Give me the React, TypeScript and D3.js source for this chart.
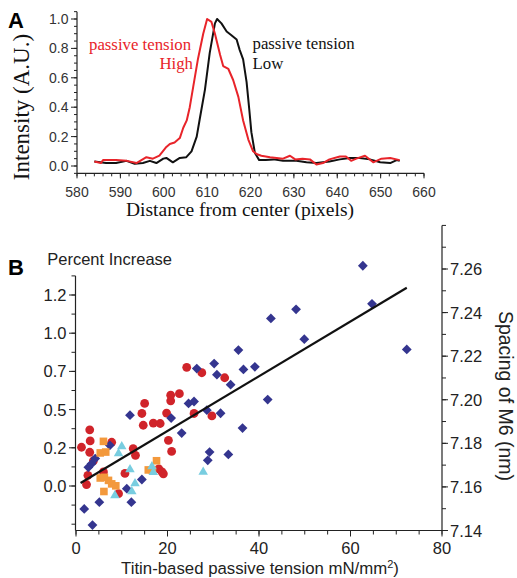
import React from "react";
import * as d3 from "d3";

// ---- Panel A data (intensity profiles) ----
const highX = [584, 585.5, 586, 589, 591.5, 593.7, 596, 597.5, 599, 600.6, 601.4, 602.5, 603.7, 604.5, 605.3, 606, 606.8, 607.9, 609.1, 610, 611, 611.8, 613, 613.7, 614.9, 616, 617.2, 618.3, 619.5, 620.6, 621.5, 622.5, 624.5, 627.5, 629.1, 630.3, 632, 633.7, 635.2, 636.7, 638.2, 640.6, 642, 643.2, 644.4, 646.4, 648.3, 650.2, 652.2, 654.4];
const highY = [0.03, 0.02, 0.04, 0.04, 0.035, 0.02, 0.06, 0.05, 0.07, 0.13, 0.15, 0.16, 0.19, 0.26, 0.31, 0.4, 0.54, 0.73, 0.9, 1.0, 0.98, 0.9, 0.755, 0.68, 0.66, 0.585, 0.47, 0.31, 0.18, 0.1, 0.08, 0.07, 0.06, 0.05, 0.07, 0.045, 0.05, 0.045, 0.01, 0.02, 0.045, 0.065, 0.065, 0.035, 0.05, 0.07, 0.025, 0.05, 0.055, 0.04];
const lowX = [584, 586.7, 589, 591.4, 593.3, 595.2, 596.8, 598.3, 599.9, 600.6, 602.1, 603.7, 605.2, 606.4, 607.6, 608.3, 609.5, 610.6, 611.8, 612.3, 613.3, 614.5, 615.6, 616.8, 617.5, 618.3, 619.1, 619.7, 620.2, 621, 622, 623.5, 625.3, 627.5, 630.6, 632.9, 635.2, 638.2, 640.6, 642.9, 645.2, 647.5, 649.9, 652.2, 653.7, 654.4];
const lowY = [0.03, 0.02, 0.02, 0.035, 0.015, 0.02, 0.035, 0.02, 0.05, 0.055, 0.025, 0.055, 0.06, 0.1, 0.2, 0.32, 0.52, 0.77, 0.97, 1.0, 0.97, 0.915, 0.89, 0.86, 0.79, 0.725, 0.57, 0.39, 0.23, 0.09, 0.04, 0.04, 0.045, 0.035, 0.035, 0.025, 0.02, 0.03, 0.045, 0.055, 0.055, 0.045, 0.025, 0.02, 0.04, 0.035];

const aXTicks = [580, 590, 600, 610, 620, 630, 640, 650, 660];
const aYTicks = [0, 0.2, 0.4, 0.6, 0.8, 1.0];
const aYLabels = ["0.0", "0.2", "0.4", "0.6", "0.8", "1.0"];

// ---- Panel B data (x: titin-based passive tension, y: spacing of M6 nm) ----
const redX = [1.2, 2.3, 2.6, 3.0, 3.1, 3.0, 3.8, 6.0, 7.8, 9.3, 10.7, 12.5, 13.0, 14.4, 14.7, 15.0, 16.9, 18.4, 18.1, 18.8, 19.1, 19.8, 20.2, 20.9, 20.7, 20.7, 22.6, 24.2, 27.5, 32.5, 25.8, 29.7];
const redY = [7.1782, 7.1611, 7.1653, 7.1862, 7.1811, 7.1759, 7.172, 7.1669, 7.1805, 7.1569, 7.1662, 7.1776, 7.1745, 7.1937, 7.1883, 7.1983, 7.1893, 7.1891, 7.1683, 7.1669, 7.166, 7.1939, 7.1814, 7.1763, 7.1995, 7.2021, 7.2028, 7.2149, 7.2124, 7.2101, 7.1937, 7.1926];
const blueX = [1.8, 3.6, 2.7, 3.4, 4.2, 5.1, 7.4, 11.8, 11.1, 12.1, 14.4, 20.8, 23.1, 24.6, 25.8, 28.6, 28.8, 29.2, 31.6, 33.3, 33.8, 36.4, 26.4, 30.2, 30.8, 35.5, 36.6, 39.1, 41.9, 42.6, 48.1, 49.9, 62.7, 64.7, 72.3];
const blueY = [7.1499, 7.1425, 7.169, 7.1706, 7.173, 7.153, 7.1791, 7.1929, 7.1592, 7.153, 7.1634, 7.1916, 7.1847, 7.1983, 7.1992, 7.1952, 7.1722, 7.176, 7.1938, 7.1749, 7.2069, 7.187, 7.2143, 7.2166, 7.2115, 7.2228, 7.2139, 7.2151, 7.2001, 7.2373, 7.2415, 7.2278, 7.2615, 7.244, 7.2231];
const orangeX = [6.0, 5.3, 6.5, 5.3, 6.2, 7.1, 6.1, 7.8, 8.7, 15.8, 16.7, 17.6];
const orangeY = [7.1809, 7.1756, 7.176, 7.1641, 7.1644, 7.163, 7.1579, 7.1614, 7.1605, 7.1678, 7.1676, 7.172];
const cyanX = [10.0, 9.3, 11.8, 8.5, 12.2, 12.9, 16.6, 16.9, 27.8];
const cyanY = [7.1786, 7.1753, 7.168, 7.1561, 7.1579, 7.1616, 7.1694, 7.1667, 7.1668];
const fitX = [1.0, 72.3];
const fitY = [7.1618, 7.2514];

const bXTicks = [0, 20, 40, 60, 80];
const bLeftTicks = [0, 0.25, 0.5, 0.75, 1.0, 1.25];
const bLeftLabels = ["0.0", "0.2", "0.5", "0.7", "1.0", "1.2"];
const bRightTicks = [7.14, 7.16, 7.18, 7.2, 7.22, 7.24, 7.26];

const SERIF = "'Liberation Serif', 'Times New Roman', serif";
const SANS = "'Liberation Sans', Arial, sans-serif";
const AX = "#222";

export default function App() {
  const W = 517;
  const H = 578;

  // Panel A scales
  const xA = d3.scaleLinear().domain([580, 660]).range([77, 424]);
  const yA = d3.scaleLinear().domain([0, 1]).range([166, 19]);
  const lineA = d3.line<[number, number]>().x((d) => xA(d[0])).y((d) => yA(d[1]));
  const highPts: [number, number][] = highX.map((x, i) => [x, highY[i]]);
  const lowPts: [number, number][] = lowX.map((x, i) => [x, lowY[i]]);
  const aBottom = yA(-0.05);
  const aTop = yA(1.05);
  const aXMinor = d3.range(580, 660.01, 2);
  const aYMinor = d3.range(-0.05, 1.051, 0.05);

  // Panel B scales
  const xB = d3.scaleLinear().domain([0, 80]).range([76, 442]);
  const yR = d3.scaleLinear().domain([7.14, 7.26]).range([530.5, 269]);
  const yL = d3.scaleLinear().domain([0, 1.25]).range([486, 295]);
  const bBottom = 530.5;
  const bLeftTop = yL(1.375);
  const bRightTop = yR(7.28);
  const bXMinor = d3.range(0, 80.01, 5);
  const bLeftMinor = d3.range(-0.25, 1.376, 0.125);
  const bRightMinor = d3.range(7.14, 7.2801, 0.01);
  const fitLine = d3.line<number>().x((d) => xB(d)).y((_, i) => yR(fitY[i]));

  const diamond = (x: number, y: number, r: number) =>
    `M${x},${y - r}L${x + r},${y}L${x},${y + r}L${x - r},${y}Z`;
  const tri = (x: number, y: number, s: number) => {
    const h = (s * Math.sqrt(3)) / 2;
    return `M${x},${y - (2 * h) / 3}L${x + s / 2},${y + h / 3}L${x - s / 2},${y + h / 3}Z`;
  };

  return (
    <svg
      width={W}
      height={H}
      viewBox={`0 0 ${W} ${H}`}
      style={{ position: "absolute", left: 0, top: 0, background: "#fff" }}
    >
      <rect x={0} y={0} width={W} height={H} fill="#fff" />

      {/* ---------- Panel A ---------- */}
      <text x={8} y={28} fontFamily={SANS} fontWeight="bold" fontSize={22} fill="#000">A</text>

      {/* axes */}
      <line x1={77} x2={77} y1={aTop} y2={aBottom} stroke={AX} strokeWidth={1.2} />
      <line x1={77} x2={424} y1={aBottom} y2={aBottom} stroke={AX} strokeWidth={1.2} />
      {aYMinor.map((v, i) => (
        <line key={"aym" + i} x1={77} x2={74} y1={yA(v)} y2={yA(v)} stroke={AX} strokeWidth={1} />
      ))}
      {aYTicks.map((v, i) => (
        <g key={"ayt" + i}>
          <line x1={77} x2={71} y1={yA(v)} y2={yA(v)} stroke={AX} strokeWidth={1} />
          <text x={68.5} y={yA(v) + 5} textAnchor="end" fontFamily={SANS} fontSize={14} fill="#333">
            {aYLabels[i]}
          </text>
        </g>
      ))}
      {aXMinor.map((v, i) => (
        <line key={"axm" + i} x1={xA(v)} x2={xA(v)} y1={aBottom} y2={aBottom + 3} stroke={AX} strokeWidth={1} />
      ))}
      {aXTicks.map((v, i) => (
        <g key={"axt" + i}>
          <line x1={xA(v)} x2={xA(v)} y1={aBottom} y2={aBottom + 5} stroke={AX} strokeWidth={1} />
          <text x={xA(v)} y={196.5} textAnchor="middle" fontFamily={SANS} fontSize={14} fill="#333">
            {v}
          </text>
        </g>
      ))}
      <text x={240} y={216} textAnchor="middle" fontFamily={SERIF} fontSize={19.5} fill="#111">
        Distance from center (pixels)
      </text>
      <text
        transform="translate(29,107) rotate(-90)"
        textAnchor="middle"
        fontFamily={SERIF}
        fontSize={23}
        fill="#111"
      >
        Intensity (A.U.)
      </text>

      {/* curves */}
      <path d={lineA(lowPts) || ""} fill="none" stroke="#111" strokeWidth={2} strokeLinejoin="round" />
      <path d={lineA(highPts) || ""} fill="none" stroke="#e8242a" strokeWidth={2} strokeLinejoin="round" />

      <text x={89} y={49.5} fontFamily={SERIF} fontSize={16.8} fill="#e8242a">passive tension</text>
      <text x={193} y={69.3} textAnchor="end" fontFamily={SERIF} fontSize={16.8} fill="#e8242a">High</text>
      <text x={252.5} y={49.3} fontFamily={SERIF} fontSize={16.8} fill="#111">passive tension</text>
      <text x={252.5} y={69.3} fontFamily={SERIF} fontSize={16.8} fill="#111">Low</text>

      {/* ---------- Panel B ---------- */}
      <text x={8} y={275} fontFamily={SANS} fontWeight="bold" fontSize={22} fill="#000">B</text>
      <text x={172} y={265} textAnchor="end" fontFamily={SANS} fontSize={16.5} fill="#222">
        Percent Increase
      </text>

      {/* left axis */}
      <line x1={75.5} x2={75.5} y1={bLeftTop} y2={bBottom} stroke={AX} strokeWidth={1.2} />
      {bLeftMinor.map((v, i) => (
        <line key={"blm" + i} x1={75.5} x2={71.5} y1={yL(v)} y2={yL(v)} stroke={AX} strokeWidth={1} />
      ))}
      {bLeftTicks.map((v, i) => (
        <g key={"blt" + i}>
          <line x1={75.5} x2={69} y1={yL(v)} y2={yL(v)} stroke={AX} strokeWidth={1} />
          <text x={66.5} y={yL(v) + 6} textAnchor="end" fontFamily={SANS} fontSize={16.5} fill="#222">
            {bLeftLabels[i]}
          </text>
        </g>
      ))}

      {/* bottom axis */}
      <line x1={75.5} x2={442} y1={bBottom} y2={bBottom} stroke={AX} strokeWidth={1.2} />
      {bXMinor.map((v, i) => (
        <line key={"bxm" + i} x1={xB(v)} x2={xB(v)} y1={bBottom} y2={bBottom + 4} stroke={AX} strokeWidth={1} />
      ))}
      {bXTicks.map((v, i) => (
        <g key={"bxt" + i}>
          <line x1={xB(v)} x2={xB(v)} y1={bBottom} y2={bBottom + 6} stroke={AX} strokeWidth={1} />
          <text x={xB(v)} y={553.5} textAnchor="middle" fontFamily={SANS} fontSize={16.5} fill="#222">
            {v}
          </text>
        </g>
      ))}
      <text x={260} y={574} textAnchor="middle" fontFamily={SANS} fontSize={16.8} fill="#222">
        Titin-based passive tension mN/mm
        <tspan fontSize={11} dy={-6}>2</tspan>
        <tspan dy={6}>)</tspan>
      </text>

      {/* right axis */}
      <line x1={442} x2={442} y1={bRightTop} y2={bBottom} stroke={AX} strokeWidth={1.2} />
      {bRightMinor.map((v, i) => (
        <line key={"brm" + i} x1={442} x2={446} y1={yR(v)} y2={yR(v)} stroke={AX} strokeWidth={1} />
      ))}
      {bRightTicks.map((v, i) => (
        <g key={"brt" + i}>
          <line x1={442} x2={448} y1={yR(v)} y2={yR(v)} stroke={AX} strokeWidth={1} />
          <text x={450} y={yR(v) + 6} fontFamily={SANS} fontSize={16.5} fill="#222">
            {v.toFixed(2)}
          </text>
        </g>
      ))}
      <text
        transform="translate(499,396) rotate(90)"
        textAnchor="middle"
        fontFamily={SANS}
        fontSize={19.5}
        fill="#222"
      >
        Spacing of M6 (nm)
      </text>

      {/* points */}
      {redX.map((x, i) => (
        <circle key={"r" + i} cx={xB(x)} cy={yR(redY[i])} r={4.4} fill="#d0242a" />
      ))}
      {blueX.map((x, i) => (
        <path key={"b" + i} d={diamond(xB(x), yR(blueY[i]), 4.9)} fill="#34358f" />
      ))}
      {orangeX.map((x, i) => (
        <rect key={"o" + i} x={xB(x) - 3.8} y={yR(orangeY[i]) - 3.8} width={7.6} height={7.6} fill="#f3993c" />
      ))}
      {cyanX.map((x, i) => (
        <path key={"c" + i} d={tri(xB(x), yR(cyanY[i]), 9.5)} fill="#78cde0" />
      ))}

      {/* fit line */}
      <path d={fitLine(fitX) || ""} fill="none" stroke="#111" strokeWidth={2.2} />
    </svg>
  );
}
